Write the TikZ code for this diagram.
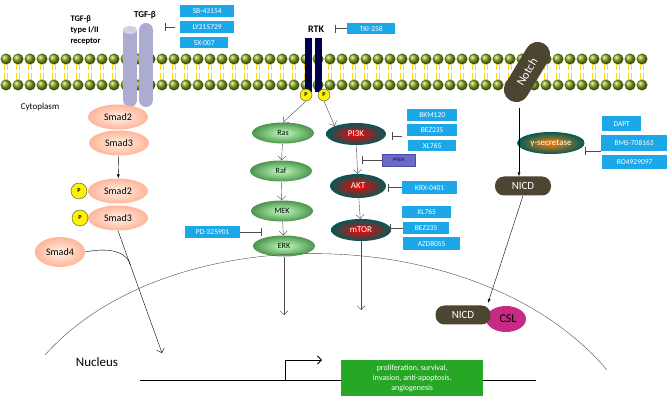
\documentclass[tikz,border=0pt]{standalone}
\usepackage{fontspec}
\setmainfont{Carlito}
\usetikzlibrary{positioning,calc,arrows.meta,shapes.geometric}

\definecolor{drug}{HTML}{1CA8E8}
\definecolor{lipid}{HTML}{7FA012}
\definecolor{notchc}{HTML}{4B4532}

\tikzset{
    drug/.style={fill=drug,text=white,font=\fontsize{7.5}{8}\selectfont,inner sep=0pt,anchor=north west},
    smad/.style={ellipse,inner color=orange!10,outer color=orange!55!red!40,minimum width=60,minimum height=25,font=\fontsize{10}{11}\selectfont},
    mapk/.style={ellipse,inner color=green!25!white,outer color=green!40!black!70,minimum width=62,minimum height=21,font=\fontsize{8}{9}\selectfont},
    pik/.style={ellipse,inner color=red,outer color=teal!70!black,text=white,minimum width=60,minimum height=22,font=\fontsize{9}{10}\selectfont},
    phos/.style={circle,fill=yellow,draw=black!70,inner sep=0pt,minimum size=#1,font=\bfseries\fontsize{6}{6}\selectfont},
    inh/.style={-{Bar[width=8pt]},black!70},
    act/.style={-{Straight Barb[length=4pt]},black!70},
    dark/.style={rounded corners=9pt,fill=notchc,text=white,font=\fontsize{11}{12}\selectfont}
}

\begin{document}
\begin{tikzpicture}[x=1pt,y=-1pt]
    \useasboundingbox (0,0) rectangle (670,406);
    % membrane
    \foreach \x in {6,18,...,648}
    {
        \draw[yellow!80!orange,line width=0.8pt] (\x-1.5,63) -- (\x-1.5,70) (\x+1.5,63) -- (\x+1.5,70)
            (\x-1.5,73) -- (\x-1.5,80) (\x+1.5,73) -- (\x+1.5,80);
        \shade[ball color=lipid] (\x,59) circle (5.5);
        \shade[ball color=lipid] (\x,85) circle (5.5);
    }
    % TGF-beta receptor
    \fill[blue!30!gray!50] (123,30) rectangle (137,100);
    \fill[blue!30!gray!50] (130,100) circle (7);
    \fill[blue!20!gray!30] (130,30) ellipse (7 and 4);
    \fill[blue!30!gray!50] (139,30) rectangle (153,100);
    \fill[blue!30!gray!50] (146,100) circle (7);
    \fill[blue!30!gray!50] (146,30) circle (7);
    \node[font=\bfseries\fontsize{8.5}{11}\selectfont,align=left,anchor=north west] (tgfr) at (67,12) {TGF-β\\type I/II\\receptor};
    \node[font=\bfseries\fontsize{9}{10}\selectfont] (tgf) at (145,15) {TGF-β};
    \node[drug,minimum width=54,minimum height=12] (sb) at (180,5) {SB-43154};
    \node[drug,minimum width=54,minimum height=12] (ly) at (180,21) {LY215729};
    \node[drug,minimum width=48,minimum height=11] (sx) at (180,37) {SX-007};
    \coordinate (tgfi) at (175,27);
    \draw[inh] (tgfi) -- ++(-10,0);
    \node[font=\fontsize{9}{10}\selectfont] (cyto) at (40,107) {Cytoplasm};
    % Smads
    \node[smad] (s2) at (118,117) {Smad2};
    \node[smad] (s3) at (119,143) {Smad3};
    \node[smad] (ps2) at (118,191) {Smad2};
    \node[smad] (ps3) at (118,218) {Smad3};
    \node[phos=16] (p1) at (79,191) {P};
    \node[phos=16] (p2) at (80,218) {P};
    \node[smad,minimum width=50,minimum height=30] (s4) at (60,252) {Smad4};
    \draw[-{Latex[length=4pt]},black] (s3) -- (ps2);
    \coordinate (nuc) at (162,353);
    \draw[-{Straight Barb[length=4pt]}] (ps3.south) -- (nuc);
    \coordinate (join) at ($(ps3.south)!0.28!(nuc)$);
    \draw (s4.east) .. controls (115,246) and (128,255) .. (join);
    % RTK
    \node[font=\bfseries\fontsize{10}{11}\selectfont] (rtk) at (316,29) {RTK};
    \fill[blue!30!black] (305,38) rectangle (312,92);
    \fill[blue!30!black] (315,38) rectangle (322,92);
    \node[phos=12] (rp1) at (306,95) {P};
    \node[phos=12] (rp2) at (324,95) {P};
    \node[drug,minimum width=48,minimum height=11] (tki) at (347,23) {TKI-258};
    \draw[inh] (tki.west) -- ++(-12,0);
    % MAPK branch
    \node[mapk] (ras) at (283,133) {Ras};
    \node[mapk] (raf) at (281,171) {Raf};
    \node[mapk] (mek) at (282,211) {MEK};
    \node[mapk] (erk) at (284,246) {ERK};
    \draw[act] (rp1.south) -- (ras.north);
    \draw[act] (ras) -- (raf);
    \draw[act] (raf) -- (mek);
    \draw[act] (mek) -- (erk);
    \node[drug,minimum width=55,minimum height=12] (pd) at (185,226) {PD-325901};
    \draw[inh] (pd.east) -- ++(21,0);
    \coordinate (erkd) at (284,315);
    \draw[act] (erk) -- (erkd);
    % PI3K branch
    \node[pik] (pi3k) at (356,134) {PI3K};
    \node[pik,minimum width=56,minimum height=24] (akt) at (358,186) {AKT};
    \node[pik] (mtor) at (361,230) {mTOR};
    \draw[act] (rp2.south) -- (pi3k.north west);
    \draw[act] (pi3k) -- (akt);
    \draw[act] (akt) -- (mtor);
    \node[drug,minimum width=50,minimum height=12] (bkm) at (407,109) {BKM120};
    \node[drug,minimum width=50,minimum height=12] (bez) at (407,124) {BEZ235};
    \node[drug,minimum width=48,minimum height=11] (xl) at (408,140) {XL765};
    \draw[inh] (bez.west) ++(-5,6) -- ++(-10,0);
    \node[fill=blue!45!gray!80,draw=blue!40!gray,font=\fontsize{5}{6}\selectfont,minimum width=33,minimum height=12,inner sep=0pt,anchor=north west] (pten) at (382,154) {PTEN};
    \draw[inh] (pten.west) -- ++(-20,0);
    \node[drug,minimum width=55,minimum height=13] (krx) at (402,181) {KRX-0401};
    \draw[inh] (krx.west) -- ++(-14,0);
    \node[drug,minimum width=49,minimum height=12] (xl2) at (402,206) {XL765};
    \node[drug,minimum width=46,minimum height=12] (bez2) at (403,222) {BEZ235};
    \node[drug,minimum width=57,minimum height=13] (azd) at (403,237) {AZD8055};
    \draw[inh] (bez2.west) -- ++(-13,0);
    \coordinate (mtord) at (361,310);
    \draw[act] (mtor) -- (mtord);
    % Notch
    \draw[notchc,line width=25pt,line cap=round] (516.4,89.6) -- (537.6,54.4);
    \node[text=white,font=\fontsize{12}{12}\selectfont,rotate=59] (notch) at (527,72) {Notch};
    \node[ellipse,inner color=orange,outer color=teal!70!black,text=white,minimum width=62,minimum height=22,font=\fontsize{9}{10}\selectfont] (gs) at (551,143) {γ-secretase};
    \node[drug,minimum width=39,minimum height=15] (dapt) at (602,116) {DAPT};
    \node[drug,minimum width=66,minimum height=16] (bms) at (601,135) {BMS-708163};
    \node[drug,minimum width=65,minimum height=14] (ro) at (602,155) {RO4929097};
    \draw[inh] (bms.west) ++(0,8) -- ++(-16,0);
    \node[dark,minimum width=56,minimum height=19,inner sep=0pt] (nicd) at (523,186) {NICD};
    \draw[-{Latex[length=4pt]}] (519,108) -- (nicd.north -| 519,0);
    \node[ellipse,fill=magenta!80!black,minimum width=40,minimum height=26,font=\fontsize{12}{13}\selectfont,inner sep=0pt] (csl) at (506,319) {\hspace*{4pt}CSL};
    \node[dark,minimum width=55,minimum height=19,inner sep=0pt] (nicd2) at (463,315) {NICD};
    \draw[-{Latex[length=4pt]}] (nicd.south) -- (488,303);
    % nucleus
    \coordinate (nl) at (45,355);
    \coordinate (nr) at (607,370);
    \draw[black!70] (nl) .. controls (170,215) and (480,220) .. (nr);
    \node[font=\fontsize{13}{14}\selectfont] (nucleus) at (97,362) {Nucleus};
    \coordinate (dna1) at (140,380);
    \coordinate (dna2) at (536,380);
    \draw[thick] (dna1) -- (dna2);
    \draw[-{Straight Barb[length=4pt]},thick] (285,380) -- (285,360) -- (322,360);
    \node[fill=green!60!black!85,text=white,align=center,minimum width=142,minimum height=36,inner sep=1pt,font=\fontsize{8}{10}\selectfont,anchor=north west] (out) at (341,360) {proliferation, survival,\\invasion, anti-apoptosis,\\angiogenesis};
\end{tikzpicture}
\end{document}
